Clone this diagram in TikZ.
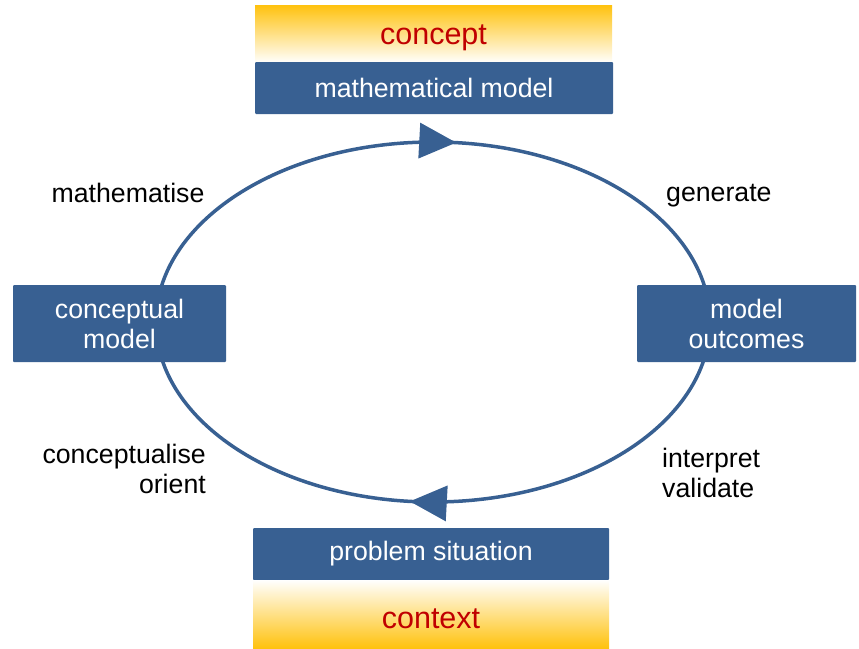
\documentclass[tikz,border=0pt]{standalone}
\usepackage{fontspec}
\setmainfont{Liberation Sans}
\usetikzlibrary{arrows.meta,decorations.markings}
\definecolor{cycleblue}{RGB}{56,96,146}
\definecolor{termred}{RGB}{192,0,0}
\definecolor{amber}{RGB}{255,194,14}

\begin{document}
\begin{tikzpicture}[x=1pt,y=-1pt,
  stage/.style={fill=cycleblue, text=white, font=\fontsize{26.7}{30}\selectfont,
    align=center, inner sep=0pt, rounded corners=1pt},
  band/.style={inner sep=0pt, text=termred, font=\fontsize{30.5}{34}\selectfont},
  verb/.style={inner sep=0pt, text=black, font=\fontsize{26.7}{29.5}\selectfont},
  cycleline/.style={draw=cycleblue, line width=3.5pt}]
\useasboundingbox (0,0) rectangle (859,648);

% the modelling cycle, drawn first so the boxes sit on top of it
\coordinate (hub) at (433,322);
\draw[cycleline, postaction={decorate}, decoration={markings,
    mark=at position 0.266 with {\arrow{Triangle[length=37pt,width=35pt]}},
    mark=at position 0.766 with {\arrow{Triangle[length=37pt,width=35pt]}}}]
  (hub) ellipse [x radius=277, y radius=180];

% top: concept band and mathematical model
\node[band, top color=amber, bottom color=white, minimum width=357pt, minimum height=58pt,
  text height=28pt, text depth=6.5pt] (concept) at (433.5,34) {concept};
\node[stage, minimum width=358pt, minimum height=52pt] (math) at (434,88) {mathematical model};

% bottom: problem situation and context band
\node[stage, minimum width=356pt, minimum height=52pt] (problem) at (431,554) {problem situation};
\node[band, top color=white, bottom color=amber, minimum width=356pt, minimum height=68pt,
  text height=29pt, text depth=0pt] (context) at (431,614) {context};

% side stages
\node[stage, minimum width=213pt, minimum height=77pt] (concmodel) at (119.5,323.5) {conceptual\\model};
\node[stage, minimum width=219pt, minimum height=77pt] (outcomes) at (746.5,323.5) {model\\outcomes};

% activity labels
\node[verb] (mathematise) at (128,193) {mathematise};
\node[verb, anchor=west] (generate) at (666,196) {generate};
\node[verb, anchor=east, align=right] (conceptualise) at (206,469) {conceptualise\\orient};
\node[verb, anchor=west, align=left] (interpret) at (662,473) {interpret\\validate};
\end{tikzpicture}
\end{document}
